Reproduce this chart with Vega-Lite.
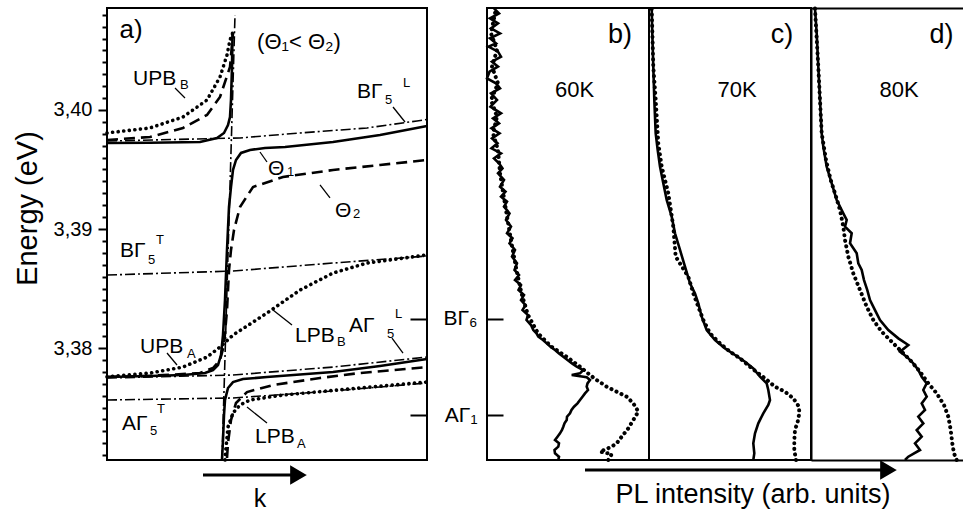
{
  "$schema": "https://vega.github.io/schema/vega-lite/v6.json",
  "background": "white",
  "padding": {"left": 12, "top": -1, "right": 0, "bottom": 0},
  "bounds": "flush",
  "spacing": 60,
  "config": {
    "font": "Liberation Sans",
    "view": {"stroke": "black", "strokeWidth": 2},
    "axis": {"labelColor": "black", "titleColor": "black", "tickColor": "black", "domainColor": "black", "grid": false, "titleFontWeight": "normal"},
    "text": {"fill": "black"},
    "line": {"stroke": "black"},
    "rule": {"stroke": "black"},
    "point": {"fill": "black", "stroke": "black"}
  },
  "datasets": {
    "levels": [{"E": 3.39723}, {"E": 3.38613}, {"E": 3.37748}, {"E": 3.37563}],
    "aCurves": [
      {"m":"t1","b":1,"k":0,"E":3.39723},{"m":"t1","b":1,"k":43,"E":3.39725},{"m":"t1","b":1,"k":93,"E":3.39731},{"m":"t1","b":1,"k":110,"E":3.39765},{"m":"t1","b":1,"k":117,"E":3.39807},{"m":"t1","b":1,"k":121,"E":3.39874},{"m":"t1","b":1,"k":123,"E":3.39941},{"m":"t1","b":1,"k":124,"E":3.40084},{"m":"t1","b":1,"k":125,"E":3.40361},{"m":"t1","b":1,"k":125.5,"E":3.40647},
      {"m":"t1","b":2,"k":0,"E":3.37756},{"m":"t1","b":2,"k":43,"E":3.37765},{"m":"t1","b":2,"k":76,"E":3.37773},{"m":"t1","b":2,"k":98,"E":3.3779},{"m":"t1","b":2,"k":106,"E":3.37815},{"m":"t1","b":2,"k":111,"E":3.37857},{"m":"t1","b":2,"k":114,"E":3.37941},{"m":"t1","b":2,"k":116,"E":3.38109},{"m":"t1","b":2,"k":118,"E":3.38403},{"m":"t1","b":2,"k":120,"E":3.38824},{"m":"t1","b":2,"k":122,"E":3.39185},{"m":"t1","b":2,"k":124,"E":3.39353},{"m":"t1","b":2,"k":126,"E":3.39496},{"m":"t1","b":2,"k":129,"E":3.3958},{"m":"t1","b":2,"k":134,"E":3.39639},{"m":"t1","b":2,"k":143,"E":3.39664},{"m":"t1","b":2,"k":158,"E":3.39681},{"m":"t1","b":2,"k":178,"E":3.39689},{"m":"t1","b":2,"k":226,"E":3.39731},{"m":"t1","b":2,"k":273,"E":3.3979},{"m":"t1","b":2,"k":320,"E":3.39866},
      {"m":"t1","b":3,"k":115,"E":3.37059},{"m":"t1","b":3,"k":116,"E":3.37227},{"m":"t1","b":3,"k":117,"E":3.37437},{"m":"t1","b":3,"k":118,"E":3.37563},{"m":"t1","b":3,"k":121,"E":3.37664},{"m":"t1","b":3,"k":126,"E":3.37714},{"m":"t1","b":3,"k":136,"E":3.37739},{"m":"t1","b":3,"k":160,"E":3.37756},{"m":"t1","b":3,"k":226,"E":3.37798},{"m":"t1","b":3,"k":273,"E":3.37849},{"m":"t1","b":3,"k":320,"E":3.37908},
      {"m":"t2","b":1,"k":0,"E":3.39748},{"m":"t2","b":1,"k":43,"E":3.39773},{"m":"t2","b":1,"k":76,"E":3.39849},{"m":"t2","b":1,"k":100,"E":3.39958},{"m":"t2","b":1,"k":113,"E":3.40109},{"m":"t2","b":1,"k":123,"E":3.40361},{"m":"t2","b":1,"k":126,"E":3.40647},
      {"m":"t2","b":2,"k":0,"E":3.37757},{"m":"t2","b":2,"k":43,"E":3.37766},{"m":"t2","b":2,"k":93,"E":3.3779},{"m":"t2","b":2,"k":106,"E":3.37832},{"m":"t2","b":2,"k":113,"E":3.37899},{"m":"t2","b":2,"k":117,"E":3.38025},{"m":"t2","b":2,"k":120,"E":3.38319},{"m":"t2","b":2,"k":122,"E":3.38655},{"m":"t2","b":2,"k":124,"E":3.38824},{"m":"t2","b":2,"k":127,"E":3.38992},{"m":"t2","b":2,"k":133,"E":3.39185},{"m":"t2","b":2,"k":146,"E":3.39353},{"m":"t2","b":2,"k":176,"E":3.39437},{"m":"t2","b":2,"k":226,"E":3.39496},{"m":"t2","b":2,"k":273,"E":3.39538},{"m":"t2","b":2,"k":320,"E":3.3958},
      {"m":"t2","b":3,"k":120,"E":3.37076},{"m":"t2","b":3,"k":121,"E":3.37202},{"m":"t2","b":3,"k":124,"E":3.37395},{"m":"t2","b":3,"k":129,"E":3.37538},{"m":"t2","b":3,"k":140,"E":3.3763},{"m":"t2","b":3,"k":166,"E":3.37689},{"m":"t2","b":3,"k":213,"E":3.37748},{"m":"t2","b":3,"k":253,"E":3.3779},{"m":"t2","b":3,"k":320,"E":3.3784},
      {"m":"t3","b":1,"k":0,"E":3.39807},{"m":"t3","b":1,"k":43,"E":3.39849},{"m":"t3","b":1,"k":76,"E":3.39941},{"m":"t3","b":1,"k":100,"E":3.40084},{"m":"t3","b":1,"k":113,"E":3.40277},{"m":"t3","b":1,"k":120,"E":3.40462},{"m":"t3","b":1,"k":123,"E":3.40588},{"m":"t3","b":1,"k":126,"E":3.40655},
      {"m":"t3","b":2,"k":0,"E":3.37758},{"m":"t3","b":2,"k":43,"E":3.3779},{"m":"t3","b":2,"k":76,"E":3.3784},{"m":"t3","b":2,"k":100,"E":3.37924},{"m":"t3","b":2,"k":113,"E":3.38008},{"m":"t3","b":2,"k":126,"E":3.38109},{"m":"t3","b":2,"k":160,"E":3.38294},{"m":"t3","b":2,"k":193,"E":3.38487},{"m":"t3","b":2,"k":226,"E":3.3863},{"m":"t3","b":2,"k":260,"E":3.38714},{"m":"t3","b":2,"k":320,"E":3.38782},
      {"m":"t3","b":3,"k":118,"E":3.37059},{"m":"t3","b":3,"k":118.5,"E":3.37118},{"m":"t3","b":3,"k":121,"E":3.37336},{"m":"t3","b":3,"k":126,"E":3.37454},{"m":"t3","b":3,"k":133,"E":3.37521},{"m":"t3","b":3,"k":143,"E":3.37563},{"m":"t3","b":3,"k":176,"E":3.37605},{"m":"t3","b":3,"k":253,"E":3.37664},{"m":"t3","b":3,"k":320,"E":3.37714},
      {"m":"x","b":"BL","k":0,"E":3.39739},{"m":"x","b":"BL","k":133,"E":3.39765},{"m":"x","b":"BL","k":193,"E":3.39807},{"m":"x","b":"BL","k":260,"E":3.39849},{"m":"x","b":"BL","k":310,"E":3.39908},{"m":"x","b":"BL","k":320,"E":3.3992},
      {"m":"x","b":"BT","k":0,"E":3.38613},{"m":"x","b":"BT","k":126,"E":3.38647},{"m":"x","b":"BT","k":226,"E":3.38714},{"m":"x","b":"BT","k":320,"E":3.38773},
      {"m":"x","b":"AL","k":0,"E":3.37748},{"m":"x","b":"AL","k":126,"E":3.37773},{"m":"x","b":"AL","k":226,"E":3.3784},{"m":"x","b":"AL","k":320,"E":3.37924},
      {"m":"x","b":"AT","k":0,"E":3.37563},{"m":"x","b":"AT","k":126,"E":3.3758},{"m":"x","b":"AT","k":226,"E":3.37639},{"m":"x","b":"AT","k":320,"E":3.37706}
    ],
    "aLight": [{"k":115,"E":3.37059},{"k":128,"E":3.40798}],
    "aLeaders": [
      {"k":68,"E":3.40185,"k2":78,"E2":3.40101},
      {"k":286,"E":3.40025,"k2":298,"E2":3.39899},
      {"k":153,"E":3.39647,"k2":160,"E2":3.39563},
      {"k":213,"E":3.3937,"k2":223,"E2":3.39261},
      {"k":60,"E":3.37958,"k2":70,"E2":3.37857},
      {"k":166,"E":3.38319,"k2":185,"E2":3.38193},
      {"k":285,"E":3.38084,"k2":296,"E2":3.37958},
      {"k":140,"E":3.37504,"k2":160,"E2":3.3737}
    ],
    "aLabels": [
      {"k":26,"E":3.4021,"t":"UPB"},
      {"k":250,"E":3.40101,"t":"BΓ"},
      {"k":161,"E":3.39454,"t":"Θ"},
      {"k":228,"E":3.39101,"t":"Θ"},
      {"k":13,"E":3.38765,"t":"BΓ"},
      {"k":33,"E":3.37958,"t":"UPB"},
      {"k":188,"E":3.3805,"t":"LPB"},
      {"k":242,"E":3.38134,"t":"AΓ"},
      {"k":15,"E":3.37311,"t":"AΓ"},
      {"k":148,"E":3.37202,"t":"LPB"}
    ],
    "aSubs": [
      {"k":73,"E":3.40176,"t":"B"},
      {"k":278,"E":3.4005,"t":"5"},
      {"k":296,"E":3.40193,"t":"L"},
      {"k":180,"E":3.39445,"t":"1"},
      {"k":246,"E":3.39093,"t":"2"},
      {"k":41,"E":3.38706,"t":"5"},
      {"k":49,"E":3.38874,"t":"T"},
      {"k":80,"E":3.37916,"t":"A"},
      {"k":230,"E":3.38017,"t":"B"},
      {"k":280,"E":3.38084,"t":"5"},
      {"k":288,"E":3.38252,"t":"L"},
      {"k":43,"E":3.37269,"t":"5"},
      {"k":50,"E":3.37454,"t":"T"},
      {"k":190,"E":3.3716,"t":"A"}
    ],
    "r60": [
      {"s":1,"I":7.0,"E":3.40854},{"s":1,"I":12.0,"E":3.40812},{"s":1,"I":3.0,"E":3.4077},{"s":1,"I":11.0,"E":3.40728},{"s":1,"I":4.0,"E":3.40686},{"s":1,"I":13.0,"E":3.40644},{"s":1,"I":3.0,"E":3.40602},{"s":1,"I":9.0,"E":3.4056},{"s":1,"I":1.5,"E":3.40532},{"s":1,"I":11.0,"E":3.4049},{"s":1,"I":14.0,"E":3.40448},{"s":1,"I":5.0,"E":3.40406},{"s":1,"I":11.0,"E":3.40364},{"s":1,"I":2.5,"E":3.40322},{"s":1,"I":0.0,"E":3.40266},{"s":1,"I":9.0,"E":3.40224},{"s":1,"I":13.0,"E":3.40182},{"s":1,"I":4.0,"E":3.4014},{"s":1,"I":10.0,"E":3.40084},{"s":1,"I":3.5,"E":3.40028},{"s":1,"I":14.0,"E":3.39972},{"s":1,"I":6.0,"E":3.3993},{"s":1,"I":12.0,"E":3.39888},{"s":1,"I":4.5,"E":3.39846},{"s":1,"I":12.5,"E":3.39804},{"s":1,"I":5.0,"E":3.39762},{"s":1,"I":10.5,"E":3.3972},{"s":1,"I":4.5,"E":3.39678},{"s":1,"I":14.0,"E":3.39636},{"s":1,"I":7.0,"E":3.39594},{"s":1,"I":12.0,"E":3.39552},{"s":1,"I":15.5,"E":3.3951},{"s":1,"I":11.0,"E":3.39468},{"s":1,"I":17.0,"E":3.39412},{"s":1,"I":13.0,"E":3.39356},{"s":1,"I":18.5,"E":3.39314},{"s":1,"I":14.0,"E":3.39272},{"s":1,"I":20.0,"E":3.3923},{"s":1,"I":17.0,"E":3.39188},{"s":1,"I":22.5,"E":3.39132},{"s":1,"I":19.0,"E":3.39076},{"s":1,"I":24.0,"E":3.3902},{"s":1,"I":20.0,"E":3.38964},{"s":1,"I":25.5,"E":3.38922},{"s":1,"I":22.5,"E":3.3888},{"s":1,"I":28.0,"E":3.38824},{"s":1,"I":25.0,"E":3.38768},{"s":1,"I":30.0,"E":3.38712},{"s":1,"I":27.5,"E":3.38656},{"s":1,"I":32.0,"E":3.38613},{"s":1,"I":28.0,"E":3.38571},{"s":1,"I":34.0,"E":3.38529},{"s":1,"I":31.5,"E":3.38487},{"s":1,"I":37.0,"E":3.38445},{"s":1,"I":34.0,"E":3.38403},{"s":1,"I":38.5,"E":3.38361},{"s":1,"I":35.5,"E":3.38319},{"s":1,"I":41.0,"E":3.38277},{"s":1,"I":39.5,"E":3.38235},{"s":1,"I":44.0,"E":3.38193},{"s":1,"I":46.3,"E":3.38151},{"s":1,"I":49.5,"E":3.38123},{"s":1,"I":51.3,"E":3.38095},{"s":1,"I":56.0,"E":3.38067},{"s":1,"I":59.7,"E":3.38039},{"s":1,"I":63.5,"E":3.38011},{"s":1,"I":68.0,"E":3.37983},{"s":1,"I":72.0,"E":3.37955},{"s":1,"I":76.3,"E":3.37927},{"s":1,"I":80.5,"E":3.37899},{"s":1,"I":85.0,"E":3.37871},{"s":1,"I":89.7,"E":3.37843},{"s":1,"I":96.3,"E":3.37815},{"s":1,"I":93.0,"E":3.37787},{"s":1,"I":84.7,"E":3.37773},{"s":1,"I":99.7,"E":3.37754},{"s":1,"I":103.0,"E":3.37731},{"s":1,"I":100.5,"E":3.37703},{"s":1,"I":99.7,"E":3.37675},{"s":1,"I":101.0,"E":3.37647},{"s":1,"I":98.0,"E":3.37619},{"s":1,"I":95.5,"E":3.37591},{"s":1,"I":93.0,"E":3.37563},{"s":1,"I":90.5,"E":3.37535},{"s":1,"I":87.0,"E":3.37507},{"s":1,"I":84.5,"E":3.37479},{"s":1,"I":83.0,"E":3.37451},{"s":1,"I":80.0,"E":3.37423},{"s":1,"I":79.7,"E":3.37395},{"s":1,"I":77.5,"E":3.37367},{"s":1,"I":76.3,"E":3.37339},{"s":1,"I":75.0,"E":3.37311},{"s":1,"I":73.0,"E":3.37283},{"s":1,"I":70.5,"E":3.37255},{"s":1,"I":68.0,"E":3.37227},{"s":1,"I":72.0,"E":3.37199},{"s":1,"I":71.3,"E":3.37171},{"s":1,"I":67.5,"E":3.37143},{"s":1,"I":68.0,"E":3.37115},{"s":1,"I":72.0,"E":3.37087},{"s":1,"I":71.3,"E":3.37059},
      {"s":2,"I":9.0,"E":3.40854},{"s":2,"I":4.0,"E":3.40644},{"s":2,"I":10.0,"E":3.40504},{"s":2,"I":5.0,"E":3.40364},{"s":2,"I":11.0,"E":3.40224},{"s":2,"I":4.0,"E":3.40084},{"s":2,"I":10.0,"E":3.39944},{"s":2,"I":6.0,"E":3.39804},{"s":2,"I":11.0,"E":3.39664},{"s":2,"I":13.0,"E":3.39468},{"s":2,"I":19.5,"E":3.39132},{"s":2,"I":24.5,"E":3.3888},{"s":2,"I":29.5,"E":3.38656},{"s":2,"I":34.5,"E":3.38459},{"s":2,"I":41.0,"E":3.38277},{"s":2,"I":51.0,"E":3.38123},{"s":2,"I":64.5,"E":3.38011},{"s":2,"I":79.5,"E":3.37927},{"s":2,"I":93.0,"E":3.37843},{"s":2,"I":103.0,"E":3.37773},{"s":2,"I":109.7,"E":3.37731},{"s":2,"I":119.7,"E":3.37675},{"s":2,"I":129.7,"E":3.37633},{"s":2,"I":139.7,"E":3.37591},{"s":2,"I":146.3,"E":3.37535},{"s":2,"I":151.3,"E":3.37465},{"s":2,"I":146.3,"E":3.37395},{"s":2,"I":141.3,"E":3.37325},{"s":2,"I":134.7,"E":3.37255},{"s":2,"I":129.7,"E":3.37199},{"s":2,"I":124.7,"E":3.37171},{"s":2,"I":113.0,"E":3.37129},{"s":2,"I":124.7,"E":3.37109},{"s":2,"I":121.3,"E":3.37059}
    ],
    "r70": [
      {"s":1,"I":2.7,"E":3.40854},{"s":1,"I":3.3,"E":3.40644},{"s":1,"I":4.3,"E":3.40364},{"s":1,"I":5.3,"E":3.40084},{"s":1,"I":6.7,"E":3.39804},{"s":1,"I":8.7,"E":3.39664},{"s":1,"I":11.0,"E":3.39524},{"s":1,"I":14.3,"E":3.39384},{"s":1,"I":17.7,"E":3.39244},{"s":1,"I":22.7,"E":3.39104},{"s":1,"I":26.0,"E":3.38964},{"s":1,"I":31.0,"E":3.38824},{"s":1,"I":36.0,"E":3.38684},{"s":1,"I":41.0,"E":3.38543},{"s":1,"I":46.0,"E":3.38459},{"s":1,"I":49.3,"E":3.38375},{"s":1,"I":52.7,"E":3.38263},{"s":1,"I":57.7,"E":3.38151},{"s":1,"I":66.0,"E":3.38067},{"s":1,"I":76.0,"E":3.37997},{"s":1,"I":86.0,"E":3.37941},{"s":1,"I":96.0,"E":3.37885},{"s":1,"I":104.3,"E":3.37829},{"s":1,"I":111.0,"E":3.37759},{"s":1,"I":117.7,"E":3.37703},{"s":1,"I":119.3,"E":3.37647},{"s":1,"I":121.0,"E":3.37563},{"s":1,"I":119.3,"E":3.37521},{"s":1,"I":114.3,"E":3.37451},{"s":1,"I":109.3,"E":3.37367},{"s":1,"I":106.0,"E":3.37283},{"s":1,"I":104.3,"E":3.37199},{"s":1,"I":105.3,"E":3.37115},{"s":1,"I":104.3,"E":3.37059},
      {"s":2,"I":2.7,"E":3.40854},{"s":2,"I":4.3,"E":3.40364},{"s":2,"I":6.7,"E":3.40084},{"s":2,"I":9.3,"E":3.3972},{"s":2,"I":12.7,"E":3.39524},{"s":2,"I":19.3,"E":3.393},{"s":2,"I":24.3,"E":3.3902},{"s":2,"I":26.7,"E":3.38768},{"s":2,"I":39.3,"E":3.38599},{"s":2,"I":44.3,"E":3.38459},{"s":2,"I":49.3,"E":3.38347},{"s":2,"I":54.3,"E":3.38235},{"s":2,"I":61.0,"E":3.38123},{"s":2,"I":71.0,"E":3.38039},{"s":2,"I":81.0,"E":3.37969},{"s":2,"I":91.0,"E":3.37913},{"s":2,"I":101.0,"E":3.37843},{"s":2,"I":109.3,"E":3.37787},{"s":2,"I":116.0,"E":3.37745},{"s":2,"I":126.0,"E":3.37675},{"s":2,"I":136.0,"E":3.37633},{"s":2,"I":144.3,"E":3.37577},{"s":2,"I":150.0,"E":3.37507},{"s":2,"I":150.3,"E":3.37451},{"s":2,"I":148.7,"E":3.37381},{"s":2,"I":146.0,"E":3.37311},{"s":2,"I":145.3,"E":3.37227},{"s":2,"I":145.3,"E":3.37143},{"s":2,"I":147.0,"E":3.37059}
    ],
    "r80": [
      {"s":1,"I":4.0,"E":3.40854},{"s":1,"I":5.7,"E":3.40644},{"s":1,"I":7.3,"E":3.40364},{"s":1,"I":9.0,"E":3.40084},{"s":1,"I":10.7,"E":3.39804},{"s":1,"I":12.3,"E":3.39692},{"s":1,"I":15.7,"E":3.39524},{"s":1,"I":20.7,"E":3.39384},{"s":1,"I":25.7,"E":3.39244},{"s":1,"I":32.3,"E":3.39132},{"s":1,"I":35.7,"E":3.39076},{"s":1,"I":34.0,"E":3.3902},{"s":1,"I":40.7,"E":3.38964},{"s":1,"I":39.0,"E":3.3888},{"s":1,"I":45.7,"E":3.38796},{"s":1,"I":47.3,"E":3.38712},{"s":1,"I":50.7,"E":3.38656},{"s":1,"I":53.0,"E":3.38571},{"s":1,"I":56.3,"E":3.38487},{"s":1,"I":59.0,"E":3.38403},{"s":1,"I":64.0,"E":3.38319},{"s":1,"I":69.0,"E":3.38235},{"s":1,"I":77.3,"E":3.38151},{"s":1,"I":87.3,"E":3.38081},{"s":1,"I":97.3,"E":3.38025},{"s":1,"I":89.0,"E":3.37969},{"s":1,"I":95.7,"E":3.37927},{"s":1,"I":102.3,"E":3.37871},{"s":1,"I":107.3,"E":3.37815},{"s":1,"I":110.7,"E":3.37759},{"s":1,"I":115.7,"E":3.37703},{"s":1,"I":112.3,"E":3.37647},{"s":1,"I":115.7,"E":3.37591},{"s":1,"I":110.7,"E":3.37535},{"s":1,"I":114.0,"E":3.37479},{"s":1,"I":107.3,"E":3.37423},{"s":1,"I":112.3,"E":3.37367},{"s":1,"I":105.7,"E":3.37311},{"s":1,"I":110.7,"E":3.37255},{"s":1,"I":104.0,"E":3.37199},{"s":1,"I":109.0,"E":3.37143},{"s":1,"I":97.3,"E":3.37087},{"s":1,"I":94.0,"E":3.37059},
      {"s":2,"I":4.0,"E":3.40854},{"s":2,"I":7.3,"E":3.40364},{"s":2,"I":10.7,"E":3.39804},{"s":2,"I":15.0,"E":3.3958},{"s":2,"I":19.7,"E":3.39412},{"s":2,"I":25.0,"E":3.39272},{"s":2,"I":29.0,"E":3.3916},{"s":2,"I":32.3,"E":3.3902},{"s":2,"I":34.0,"E":3.38908},{"s":2,"I":37.3,"E":3.38768},{"s":2,"I":42.3,"E":3.38627},{"s":2,"I":49.0,"E":3.38487},{"s":2,"I":55.7,"E":3.38347},{"s":2,"I":62.3,"E":3.38235},{"s":2,"I":70.7,"E":3.38137},{"s":2,"I":80.7,"E":3.38053},{"s":2,"I":90.7,"E":3.37969},{"s":2,"I":100.7,"E":3.37885},{"s":2,"I":109.0,"E":3.37801},{"s":2,"I":117.3,"E":3.37703},{"s":2,"I":125.7,"E":3.37619},{"s":2,"I":133.0,"E":3.37521},{"s":2,"I":137.3,"E":3.37423},{"s":2,"I":139.7,"E":3.37311},{"s":2,"I":141.3,"E":3.37199},{"s":2,"I":143.0,"E":3.37115},{"s":2,"I":145.7,"E":3.37059}
    ]
  },
  "hconcat": [
    {
      "width": 320,
      "height": 452,
      "encoding": {
        "x": {"field": "k", "type": "quantitative", "scale": {"domain": [0, 320], "nice": false, "zero": false}, "axis": null},
        "y": {"field": "E", "type": "quantitative", "scale": {"domain": [3.37059, 3.40857], "nice": false, "zero": false}, "axis": null}
      },
      "layer": [
        {
          "data": {"name": "levels"},
          "mark": {"type": "rule", "stroke": "#666", "strokeWidth": 1, "strokeDash": [6, 2]},
          "encoding": {
            "x": {"datum": 0, "type": "quantitative", "scale": {"domain": [0, 320], "nice": false, "zero": false}, "axis": null},
            "x2": {"datum": 320},
            "y": {
              "field": "E", "type": "quantitative",
              "scale": {"domain": [3.37059, 3.40857], "nice": false, "zero": false},
              "axis": {
                "orient": "left",
                "values": [3.371,3.372,3.373,3.374,3.375,3.376,3.377,3.378,3.379,3.38,3.381,3.382,3.383,3.384,3.385,3.386,3.387,3.388,3.389,3.39,3.391,3.392,3.393,3.394,3.395,3.396,3.397,3.398,3.399,3.4,3.401,3.402,3.403,3.404,3.405,3.406,3.407,3.408],
                "labelExpr": "abs(datum.value*100 - round(datum.value*100)) < 0.01 ? replace(format(datum.value, '.2f'), '.', ',') : ''",
                "labelOverlap": false,
                "labelFontSize": {"condition": {"test": "abs(datum.value*100 - round(datum.value*100)) < 0.01", "value": 20}, "value": 1},
                "labelPadding": 6,
                "tickSize": {"condition": {"test": "abs(datum.value*100 - round(datum.value*100)) < 0.01", "value": 9}, "value": 5},
                "tickWidth": 2,
                "domain": false,
                "title": "Energy (eV)",
                "titleFontSize": 29,
                "titleAngle": -90,
                "titleX": -80,
                "titleY": 200,
                "titleAlign": "center",
                "titleBaseline": "middle"
              }
            }
          }
        },
        {
          "data": {"name": "aLight"},
          "mark": {"type": "line", "strokeWidth": 1.6, "strokeDash": [10, 3, 2, 3]},
          "encoding": {
            "order": {"field": "E"},
            "y": {
              "field": "E", "type": "quantitative",
              "scale": {"domain": [3.37059, 3.40857], "nice": false, "zero": false},
              "axis": {"orient": "right", "values": [3.38244, 3.37437], "labels": false, "tickSize": -17, "tickWidth": 2, "domain": false, "title": null}
            }
          }
        },
        {
          "data": {"name": "aCurves"},
          "transform": [{"filter": "datum.m === 'x'"}],
          "mark": {"type": "line", "strokeWidth": 1.6, "strokeDash": [10, 3, 2, 3]},
          "encoding": {"detail": {"field": "b"}, "order": {"field": "E"}}
        },
        {
          "data": {"name": "aCurves"},
          "transform": [{"filter": "datum.m === 't1'"}],
          "mark": {"type": "line", "strokeWidth": 2.6},
          "encoding": {"detail": {"field": "b"}, "order": {"field": "E"}}
        },
        {
          "data": {"name": "aCurves"},
          "transform": [{"filter": "datum.m === 't2'"}],
          "mark": {"type": "line", "strokeWidth": 2.6, "strokeDash": [11, 6]},
          "encoding": {"detail": {"field": "b"}, "order": {"field": "E"}}
        },
        {
          "data": {"name": "aCurves"},
          "transform": [{"filter": "datum.m === 't3'"}],
          "mark": {"type": "line", "strokeWidth": 3.6, "strokeDash": [0.1, 5.5], "strokeCap": "round"},
          "encoding": {"detail": {"field": "b"}, "order": {"field": "E"}}
        },
        {
          "data": {"name": "aLeaders"},
          "mark": {"type": "rule", "strokeWidth": 1.3},
          "encoding": {"x2": {"field": "k2"}, "y2": {"field": "E2"}}
        },
        {
          "data": {"name": "aLabels"},
          "mark": {"type": "text", "fontSize": 21, "align": "left", "baseline": "alphabetic", "fill": "black"},
          "encoding": {"text": {"field": "t"}}
        },
        {
          "data": {"name": "aSubs"},
          "mark": {"type": "text", "fontSize": 13, "align": "left", "baseline": "alphabetic", "fill": "black"},
          "encoding": {"text": {"field": "t"}}
        },
        {
          "data": {"values": [{"k": 24, "E": 3.40672, "t": "a)"}]},
          "mark": {"type": "text", "fontSize": 26, "align": "center", "baseline": "middle", "fill": "black"},
          "encoding": {"text": {"field": "t"}}
        },
        {
          "data": {"values": [{"k": 192, "E": 3.40571, "t": "(Θ₁< Θ₂)"}]},
          "mark": {"type": "text", "fontSize": 22, "align": "center", "baseline": "middle", "fill": "black"},
          "encoding": {"text": {"field": "t"}}
        },
        {
          "data": {"values": [{"k": 153, "E": 3.36664, "t": "k"}]},
          "mark": {"type": "text", "fontSize": 25, "align": "center", "baseline": "alphabetic", "fill": "black"},
          "encoding": {"text": {"field": "t"}}
        },
        {
          "data": {"values": [{"k": 96, "k2": 186, "E": 3.36933}]},
          "mark": {"type": "rule", "strokeWidth": 3},
          "encoding": {"x2": {"field": "k2"}}
        },
        {
          "data": {"values": [{"k": 191, "E": 3.36933}]},
          "mark": {"type": "point", "shape": "triangle-right", "filled": true, "size": 250, "opacity": 1},
          "encoding": {}
        }
      ],
      "resolve": {"axis": {"x": "independent", "y": "independent"}}
    },
    {
      "bounds": "flush",
      "spacing": 0,
      "hconcat": [
        {
          "width": 162,
          "height": 452,
          "data": {"name": "r60"},
          "encoding": {
            "x": {"field": "I", "type": "quantitative", "scale": {"domain": [0, 162], "nice": false, "zero": false}, "axis": null},
            "y": {"field": "E", "type": "quantitative", "scale": {"domain": [3.37059, 3.40857], "nice": false, "zero": false}, "axis": null}
          },
          "layer": [
            {
              "data": {"name": "levels"},
              "mark": {"type": "rule", "stroke": "#666", "strokeWidth": 1, "strokeDash": [6, 2]},
              "encoding": {
                "x": {"datum": 0, "type": "quantitative", "scale": {"domain": [0, 162], "nice": false, "zero": false}, "axis": null},
                "x2": {"datum": 162},
                "y": {
                  "field": "E", "type": "quantitative",
                  "scale": {"domain": [3.37059, 3.40857], "nice": false, "zero": false},
                  "axis": {"orient": "left", "values": [3.38244, 3.37437], "labelExpr": "datum.value > 3.378 ? 'BΓ₆' : 'AΓ₁'", "labelFontSize": 21, "labelPadding": 26, "labelOverlap": false, "tickSize": -16, "tickWidth": 2, "domain": false, "title": null}
                }
              }
            },
            {
              "transform": [{"filter": "datum.s === 1"}],
              "mark": {"type": "line", "strokeWidth": 2.6},
              "encoding": {"order": {"field": "E"}}
            },
            {
              "transform": [{"filter": "datum.s === 2"}],
              "mark": {"type": "line", "strokeWidth": 4, "strokeDash": [0.1, 5.5], "strokeCap": "round"},
              "encoding": {"order": {"field": "E"}}
            },
            {
              "data": {"values": [{"I": 133, "E": 3.4063, "t": "b)"}]},
              "mark": {"type": "text", "fontSize": 27, "align": "center", "baseline": "middle", "fill": "black"},
              "encoding": {"text": {"field": "t"}}
            },
            {
              "data": {"values": [{"I": 87.5, "E": 3.40164, "t": "60K"}]},
              "mark": {"type": "text", "fontSize": 22, "align": "center", "baseline": "middle", "fill": "black"},
              "encoding": {"text": {"field": "t"}}
            }
          ],
          "resolve": {"axis": {"x": "independent", "y": "independent"}}
        },
        {
          "width": 162,
          "height": 452,
          "data": {"name": "r70"},
          "encoding": {
            "x": {"field": "I", "type": "quantitative", "scale": {"domain": [0, 162], "nice": false, "zero": false}, "axis": null},
            "y": {"field": "E", "type": "quantitative", "scale": {"domain": [3.37059, 3.40857], "nice": false, "zero": false}, "axis": null}
          },
          "layer": [
            {
              "data": {"name": "levels"},
              "mark": {"type": "rule", "stroke": "#666", "strokeWidth": 1, "strokeDash": [6, 2]},
              "encoding": {
                "x": {"datum": 0, "type": "quantitative", "scale": {"domain": [0, 162], "nice": false, "zero": false}, "axis": null},
                "x2": {"datum": 162}
              }
            },
            {
              "transform": [{"filter": "datum.s === 1"}],
              "mark": {"type": "line", "strokeWidth": 2.6},
              "encoding": {"order": {"field": "E"}}
            },
            {
              "transform": [{"filter": "datum.s === 2"}],
              "mark": {"type": "line", "strokeWidth": 4, "strokeDash": [0.1, 5.5], "strokeCap": "round"},
              "encoding": {"order": {"field": "E"}}
            },
            {
              "data": {"values": [{"I": 133, "E": 3.4063, "t": "c)"}]},
              "mark": {"type": "text", "fontSize": 27, "align": "center", "baseline": "middle", "fill": "black"},
              "encoding": {"text": {"field": "t"}}
            },
            {
              "data": {"values": [{"I": 88, "E": 3.40168, "t": "70K"}]},
              "mark": {"type": "text", "fontSize": 22, "align": "center", "baseline": "middle", "fill": "black"},
              "encoding": {"text": {"field": "t"}}
            },
            {
              "data": {"values": [{"I": 104, "E": 3.366975, "t": "PL intensity (arb. units)"}]},
              "mark": {"type": "text", "fontSize": 27, "align": "center", "baseline": "alphabetic", "fill": "black"},
              "encoding": {"text": {"field": "t"}}
            },
            {
              "data": {"values": [{"I": -64, "I2": 232, "E": 3.36975}]},
              "mark": {"type": "rule", "strokeWidth": 3},
              "encoding": {"x2": {"field": "I2"}}
            },
            {
              "data": {"values": [{"I": 239, "E": 3.36975}]},
              "mark": {"type": "point", "shape": "triangle-right", "filled": true, "size": 250, "opacity": 1},
              "encoding": {}
            }
          ],
          "resolve": {"axis": {"x": "independent", "y": "independent"}}
        },
        {
          "width": 152,
          "height": 452,
          "view": {"stroke": null},
          "data": {"name": "r80"},
          "encoding": {
            "x": {"field": "I", "type": "quantitative", "scale": {"domain": [0, 152], "nice": false, "zero": false}, "axis": null},
            "y": {"field": "E", "type": "quantitative", "scale": {"domain": [3.37059, 3.40857], "nice": false, "zero": false}, "axis": null}
          },
          "layer": [
            {
              "data": {"name": "levels"},
              "mark": {"type": "rule", "stroke": "#666", "strokeWidth": 1, "strokeDash": [6, 2]},
              "encoding": {
                "x": {"datum": 0, "type": "quantitative", "scale": {"domain": [0, 152], "nice": false, "zero": false}, "axis": null},
                "x2": {"datum": 152}
              }
            },
            {
              "transform": [{"filter": "datum.s === 1"}],
              "mark": {"type": "line", "strokeWidth": 2.6},
              "encoding": {
                "order": {"field": "E"},
                "x": {"field": "I", "type": "quantitative", "scale": {"domain": [0, 152], "nice": false, "zero": false}, "axis": {"orient": "bottom", "labels": false, "ticks": false, "domain": true, "domainWidth": 2, "title": null}},
                "y": {"field": "E", "type": "quantitative", "scale": {"domain": [3.37059, 3.40857], "nice": false, "zero": false}, "axis": {"orient": "left", "labels": false, "ticks": false, "domain": true, "domainWidth": 2, "title": null}}
              }
            },
            {
              "transform": [{"filter": "datum.s === 2"}],
              "mark": {"type": "line", "strokeWidth": 4, "strokeDash": [0.1, 5.5], "strokeCap": "round"},
              "encoding": {
                "order": {"field": "E"},
                "x": {"field": "I", "type": "quantitative", "scale": {"domain": [0, 152], "nice": false, "zero": false}, "axis": {"orient": "top", "labels": false, "ticks": false, "domain": true, "domainWidth": 2, "title": null}}
              }
            },
            {
              "data": {"values": [{"I": 130.5, "E": 3.4063, "t": "d)"}]},
              "mark": {"type": "text", "fontSize": 27, "align": "center", "baseline": "middle", "fill": "black"},
              "encoding": {"text": {"field": "t"}}
            },
            {
              "data": {"values": [{"I": 88, "E": 3.40168, "t": "80K"}]},
              "mark": {"type": "text", "fontSize": 22, "align": "center", "baseline": "middle", "fill": "black"},
              "encoding": {"text": {"field": "t"}}
            }
          ],
          "resolve": {"axis": {"x": "independent", "y": "independent"}}
        }
      ]
    }
  ]
}
